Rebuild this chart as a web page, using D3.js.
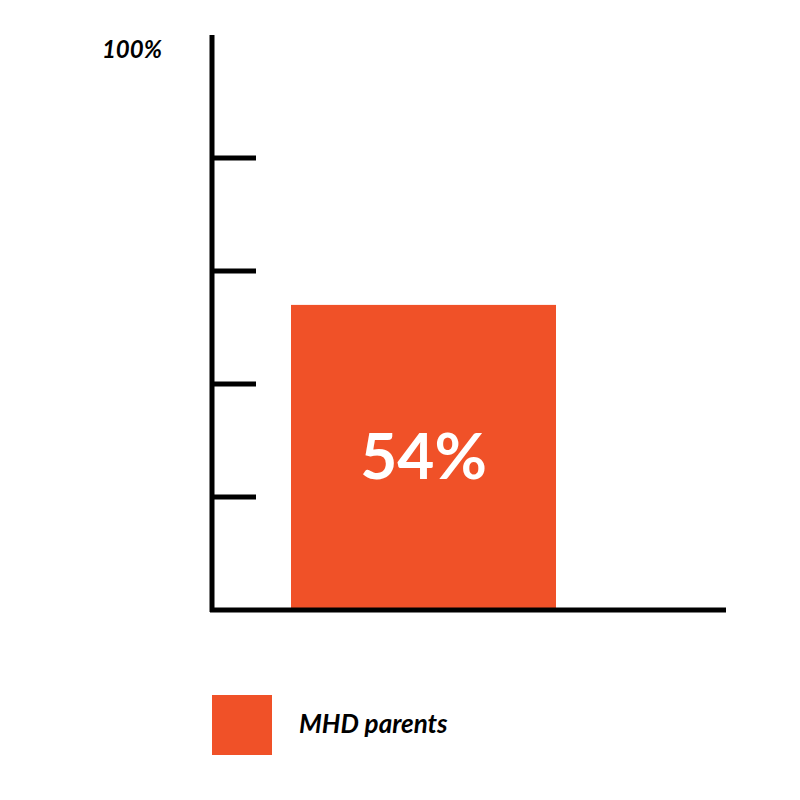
<!DOCTYPE html>
<html>
<head>
<meta charset="utf-8">
<script src="https://cdn.jsdelivr.net/npm/d3@7"></script>
<style>
  body { margin: 0; background: #fff; }
  text { font-family: Lato, "Open Sans", sans-serif; }
</style>
</head>
<body>
<div id="chart"></div>
<script>
// data
var categories = ["MHD parents"];
var values = [54];
var tickValues = [20, 40, 60, 80];
var topLabel = "100%";

var width = 800, height = 800;
var barColor = "#f05128";

var svg = d3.select("#chart").append("svg")
    .attr("width", width)
    .attr("height", height);

// scales
var y = d3.scaleLinear().domain([0, 100]).range([610, 45]);
var x = d3.scaleBand().domain(categories).range([291, 556]).padding(0);

// bars
svg.selectAll("rect.bar").data(values).enter()
    .append("rect")
    .attr("class", "bar")
    .attr("x", function(d, i) { return x(categories[i]); })
    .attr("width", x.bandwidth())
    .attr("y", function(d) { return y(d); })
    .attr("height", function(d) { return y(0) - y(d); })
    .attr("fill", barColor);

// value labels
svg.selectAll("text.val").data(values).enter()
    .append("text")
    .attr("class", "val")
    .attr("x", function(d, i) { return x(categories[i]) + x.bandwidth() / 2; })
    .attr("y", function(d) { return (y(d) + y(0)) / 2 + 22; })
    .attr("text-anchor", "middle")
    .attr("fill", "#fff")
    .attr("font-size", 64)
    .attr("font-weight", "bold")
    .text(function(d) { return d + "%"; });

// axes
svg.append("line")
    .attr("x1", 212).attr("x2", 212)
    .attr("y1", 35).attr("y2", 612)
    .attr("stroke", "#000").attr("stroke-width", 5);
svg.append("line")
    .attr("x1", 210).attr("x2", 726)
    .attr("y1", 610).attr("y2", 610)
    .attr("stroke", "#000").attr("stroke-width", 5);

svg.selectAll("line.tick").data(tickValues).enter()
    .append("line")
    .attr("class", "tick")
    .attr("x1", 212).attr("x2", 256)
    .attr("y1", function(d) { return y(d); })
    .attr("y2", function(d) { return y(d); })
    .attr("stroke", "#000").attr("stroke-width", 5);

svg.append("text")
    .attr("x", 162).attr("y", 58)
    .attr("text-anchor", "end")
    .attr("font-size", 24)
    .attr("font-weight", "bold")
    .attr("font-style", "italic")
    .text(topLabel);

// legend
var legend = svg.selectAll("g.legend").data(categories).enter()
    .append("g").attr("class", "legend")
    .attr("transform", "translate(212,695)");
legend.append("rect")
    .attr("width", 60).attr("height", 60)
    .attr("fill", barColor);
legend.append("text")
    .attr("x", 87).attr("y", 38)
    .attr("font-size", 26)
    .attr("font-weight", "bold")
    .attr("font-style", "italic")
    .text(function(d) { return d; });
</script>
</body>
</html>
